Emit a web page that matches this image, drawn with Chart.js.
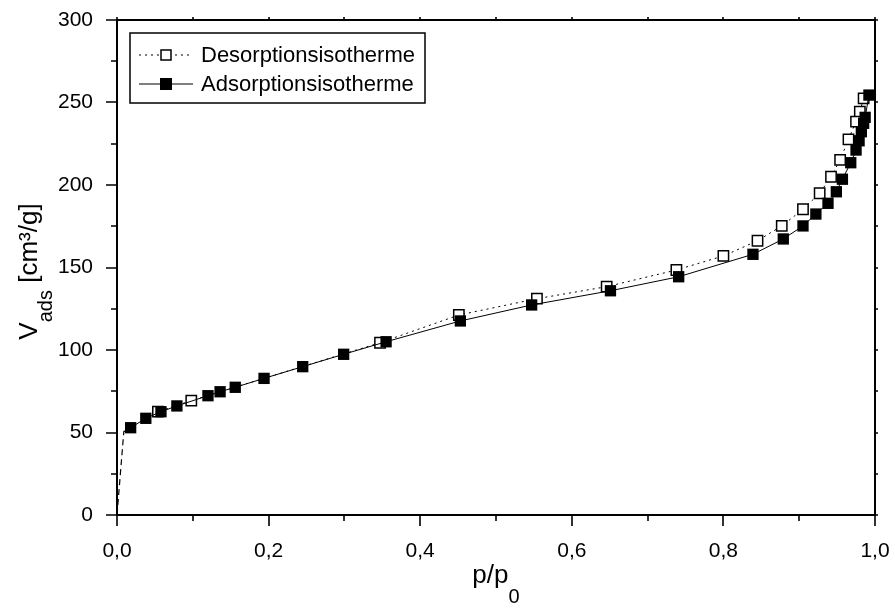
<!DOCTYPE html>
<html>
<head>
<meta charset="utf-8">
<script src="https://cdn.jsdelivr.net/npm/chart.js@4/dist/chart.umd.min.js"></script>
<style>
  html, body { margin: 0; padding: 0; background: #fff; }
  #wrap { width: 895px; height: 610px; position: relative; }
</style>
</head>
<body>
<div id="wrap"><canvas id="c"></canvas></div>
<script>
// Adsorption (filled squares), p/p0 and V_ads [cm3/g]
const adsP = [0.018, 0.038, 0.058, 0.079, 0.120, 0.136, 0.156, 0.194, 0.245, 0.299, 0.355, 0.453, 0.547, 0.651,
  0.741, 0.839, 0.879, 0.905, 0.922, 0.938, 0.949, 0.957, 0.968, 0.975, 0.979, 0.982, 0.985, 0.987, 0.992];
const adsV = [52.9, 58.6, 62.6, 66.1, 72.3, 74.7, 77.4, 82.8, 89.9, 97.4, 105.0, 117.6, 127.3, 135.9,
  144.4, 158.0, 167.3, 175.2, 182.4, 188.9, 195.9, 203.5, 213.5, 221.2, 226.8, 232.3, 237.4, 241.0, 254.5];

// Desorption (open squares)
const desP = [0.985, 0.980, 0.975, 0.965, 0.954, 0.942, 0.927, 0.905, 0.877, 0.845, 0.800, 0.738, 0.646,
  0.554, 0.451, 0.347, 0.098, 0.054];
const desV = [252.5, 244.4, 238.4, 227.7, 215.2, 205.0, 195.0, 185.3, 175.2, 166.2, 157.0, 148.5, 138.4,
  131.1, 121.2, 104.4, 69.3, 62.6];

// dashed start from origin
const startP = [0, 0.009, 0.018];
const startV = [0, 50.5, 52.9];

const xTicks = [0, 0.2, 0.4, 0.6, 0.8, 1.0];
const yTicks = [0, 50, 100, 150, 200, 250, 300];
const legendLabels = ['Desorptionsisotherme', 'Adsorptionsisotherme'];

const FONT = '"Liberation Sans", Arial, sans-serif';
const pts = (xs, ys) => xs.map((x, i) => ({ x, y: ys[i] }));
const fmt = v => v.toFixed(1).replace('.', ',');

// tick marks, frame, axis titles, legend
const deco = {
  id: 'deco',
  afterDraw(chart) {
    const { ctx, chartArea: a, scales: { x, y } } = chart;
    ctx.save();
    ctx.strokeStyle = '#000';
    ctx.lineWidth = 2;
    ctx.strokeRect(a.left, a.top, a.right - a.left, a.bottom - a.top);

    ctx.lineWidth = 1.6;
    ctx.beginPath();
    for (let i = 0; i <= 10; i++) {
      const px = Math.round(x.getPixelForValue(i / 10));
      const len = i % 2 === 0 ? 11 : 6;
      ctx.moveTo(px, a.bottom); ctx.lineTo(px, a.bottom + len);
      ctx.moveTo(px, a.top); ctx.lineTo(px, a.top - 3);
    }
    for (let v = 0; v <= 300; v += 25) {
      const py = Math.round(y.getPixelForValue(v));
      const len = v % 50 === 0 ? 11 : 6;
      ctx.moveTo(a.left, py); ctx.lineTo(a.left - len, py);
      ctx.moveTo(a.right, py); ctx.lineTo(a.right + 3, py);
    }
    ctx.stroke();

    // x title p/p0
    ctx.fillStyle = '#000';
    ctx.textBaseline = 'middle';
    ctx.font = '26px ' + FONT;
    const cx = (a.left + a.right) / 2;
    const w1 = ctx.measureText('p/p').width;
    ctx.font = '20px ' + FONT;
    const w2 = ctx.measureText('0').width;
    let sx = cx - (w1 + w2) / 2;
    ctx.font = '26px ' + FONT;
    ctx.textAlign = 'left';
    ctx.fillText('p/p', sx, 576);
    ctx.font = '20px ' + FONT;
    ctx.fillText('0', sx + w1, 597);

    // y title V_ads [cm³/g]
    ctx.translate(30, (a.top + a.bottom) / 2 + 4);
    ctx.rotate(-Math.PI / 2);
    ctx.font = '26px ' + FONT;
    const wa = ctx.measureText('V').width;
    const wc = ctx.measureText(' [cm³/g]').width;
    ctx.font = '20px ' + FONT;
    const wb = ctx.measureText('ads').width;
    sx = -(wa + wb + wc) / 2;
    ctx.font = '26px ' + FONT;
    ctx.fillText('V', sx, 0);
    ctx.font = '20px ' + FONT;
    ctx.fillText('ads', sx + wa, 16);
    ctx.font = '26px ' + FONT;
    ctx.fillText(' [cm³/g]', sx + wa + wb, 0);
    ctx.restore();

    // legend
    ctx.save();
    const lx = a.left + 13, ly = a.top + 13;
    ctx.strokeStyle = '#000';
    ctx.lineWidth = 1.5;
    ctx.strokeRect(lx, ly, 295, 70);
    ctx.font = '22px ' + FONT;
    ctx.textBaseline = 'middle';
    ctx.fillStyle = '#000';
    legendLabels.forEach((t, i) => {
      const yy = ly + 22 + i * 29;
      ctx.lineWidth = 1;
      ctx.setLineDash(i === 0 ? [2, 4] : []);
      ctx.beginPath();
      ctx.moveTo(lx + 9, yy); ctx.lineTo(lx + 63, yy);
      ctx.stroke();
      ctx.setLineDash([]);
      ctx.lineWidth = 1.5;
      if (i === 0) {
        ctx.fillStyle = '#fff';
        ctx.fillRect(lx + 31, yy - 5, 10, 10);
        ctx.strokeRect(lx + 31, yy - 5, 10, 10);
      } else {
        ctx.fillStyle = '#000';
        ctx.fillRect(lx + 30, yy - 6, 12, 12);
      }
      ctx.fillStyle = '#000';
      ctx.fillText(t, lx + 71, yy + 1);
    });
    ctx.restore();
  }
};

new Chart(document.getElementById('c'), {
  type: 'scatter',
  data: {
    datasets: [
      {
        label: 'Adsorptionsisotherme',
        data: pts(adsP, adsV),
        showLine: true,
        borderColor: '#000', borderWidth: 1,
        pointStyle: 'rect', pointRadius: 8, pointBorderWidth: 0,
        pointBackgroundColor: '#000', pointBorderColor: '#000'
      },
      {
        label: 'Desorptionsisotherme',
        data: pts(desP, desV),
        showLine: true,
        borderColor: '#000', borderWidth: 1, borderDash: [2, 4],
        pointStyle: 'rect', pointRadius: 7.3, pointBorderWidth: 1.5,
        pointBackgroundColor: '#fff', pointBorderColor: '#000'
      },
      {
        label: 'start',
        data: pts(startP, startV),
        showLine: true,
        borderColor: '#000', borderWidth: 1.2, borderDash: [6, 4],
        pointRadius: 0
      }
    ]
  },
  options: {
    responsive: true, maintainAspectRatio: false, animation: false,
    layout: { padding: { top: 20, right: 20, left: 0, bottom: 0 } },
    plugins: { legend: { display: false }, tooltip: { enabled: false } },
    scales: {
      x: {
        type: 'linear', min: 0, max: 1,
        afterFit: s => { s.height = 95; s.paddingLeft = 0; s.paddingRight = 0; },
        afterBuildTicks: s => { s.ticks = xTicks.map(v => ({ value: v })); },
        grid: { display: false }, border: { display: false },
        ticks: { color: '#000', font: { family: FONT, size: 21 }, padding: 16, maxRotation: 0, callback: v => fmt(v) }
      },
      y: {
        type: 'linear', min: 0, max: 300,
        afterFit: s => { s.width = 117; s.paddingTop = 0; s.paddingBottom = 0; },
        afterBuildTicks: s => { s.ticks = yTicks.map(v => ({ value: v })); },
        grid: { display: false }, border: { display: false },
        ticks: { color: '#000', font: { family: FONT, size: 21 }, padding: 16 }
      }
    }
  },
  plugins: [deco]
});
</script>
</body>
</html>
